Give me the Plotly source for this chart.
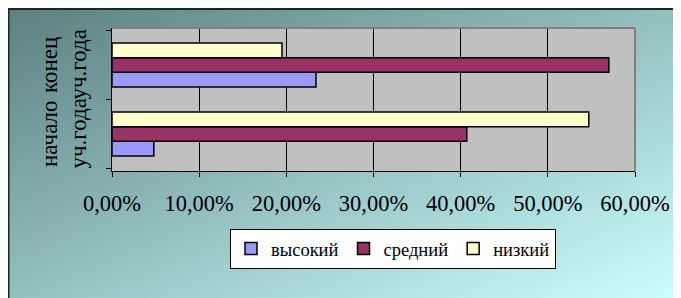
import base64
import plotly.graph_objects as go

categories = ["начало уч.года", "конец уч.года"]
series_names = ["высокий", "средний", "низкий"]
vysokiy = [0.048, 0.234]
sredniy = [0.407, 0.570]
nizkiy = [0.547, 0.195]
series_values = [vysokiy, sredniy, nizkiy]
series_colors = ["#9999FF", "#993366", "#FFFFCC"]
x_tickvals = [0, 0.1, 0.2, 0.3, 0.4, 0.5, 0.6]

# page body has an 8px margin, so the figure starts at (8, 8) in the window
W, H = 673, 290
ML, MR, MT, MB = 104, 46, 20, 127
PW, PH = W - ML - MR, H - MT - MB


def px_x(p):
    return (p - ML) / PW


def px_y(p):
    return (H - MB - p) / PH


FONT = "Liberation Serif"

fig = go.Figure()
for name, vals, col in zip(series_names, series_values, series_colors):
    fig.add_trace(go.Bar(
        y=categories, x=vals, name=name, orientation="h",
        marker=dict(color=col, line=dict(color="black", width=1.5)),
    ))

# category labels: two rotated lines per category, placed at the category
label_cols = [41, 69.5]
annotations = []
for cat in categories:
    for col_x, word in zip(label_cols, cat.split(" ")):
        annotations.append(dict(
            text=word, x=px_x(col_x), xref="paper", y=cat, yref="y",
            textangle=-90, showarrow=False, xanchor="center", yanchor="middle",
            font=dict(family=FONT, size=23, color="black"),
        ))

svg = ('<svg xmlns="http://www.w3.org/2000/svg" width="673" height="290" '
       'preserveAspectRatio="none"><defs><linearGradient id="g" x1="0" y1="0" '
       'x2="1" y2="1"><stop offset="0" stop-color="#5C8080"/>'
       '<stop offset="1" stop-color="#CCFFFF"/></linearGradient></defs>'
       '<rect width="673" height="290" fill="url(#g)"/></svg>')
src = "data:image/svg+xml;base64," + base64.b64encode(svg.encode()).decode()

fig.update_layout(
    width=W, height=H,
    margin=dict(l=ML, r=MR, t=MT, b=MB, autoexpand=False),
    paper_bgcolor="white",
    plot_bgcolor="#C0C0C0",
    barmode="group", bargap=0.36, bargroupgap=0,
    separators=",.",
    font=dict(family=FONT, color="black"),
    showlegend=True,
    legend=dict(
        orientation="h", xref="container", yref="container",
        x=222 / W, y=1 - 221 / H, xanchor="left", yanchor="top",
        bgcolor="white", bordercolor="black", borderwidth=1,
        font=dict(family=FONT, size=18.5, color="black"),
        traceorder="normal",
    ),
    xaxis=dict(
        range=[0, 0.6], tickvals=x_tickvals, tickformat=".2%",
        showgrid=True, gridcolor="black", gridwidth=1,
        showline=True, linecolor="black", linewidth=1,
        ticks="outside", ticklen=5, tickcolor="black",
        tickfont=dict(family=FONT, size=22.5, color="black"),
        ticklabelstandoff=7,
        zeroline=False, fixedrange=True,
    ),
    yaxis=dict(
        type="category", tickson="boundaries",
        showgrid=False, showline=True, linecolor="black", linewidth=1,
        ticks="outside", ticklen=5, tickcolor="black",
        showticklabels=False,
        fixedrange=True,
    ),
    annotations=annotations,
    images=[dict(
        source=src, xref="paper", yref="paper",
        x=px_x(0), y=px_y(0), sizex=W / PW, sizey=H / PH,
        xanchor="left", yanchor="top", sizing="stretch", layer="below",
    )],
    shapes=[
        dict(type="rect", xref="paper", yref="paper", x0=0, x1=1, y0=0, y1=1,
             fillcolor="#C0C0C0", line=dict(width=0), layer="below"),
        dict(type="line", xref="paper", yref="paper", x0=0, x1=1, y0=1, y1=1,
             line=dict(color="#808080", width=2), layer="above"),
        dict(type="line", xref="paper", yref="paper", x0=1, x1=1, y0=0, y1=1,
             line=dict(color="#808080", width=2), layer="above"),
        dict(type="line", xref="paper", yref="paper", x0=px_x(0), x1=px_x(W),
             y0=px_y(1), y1=px_y(1), line=dict(color="#1A2626", width=2), layer="above"),
        dict(type="line", xref="paper", yref="paper", x0=px_x(0.5), x1=px_x(0.5),
             y0=px_y(0), y1=px_y(H), line=dict(color="#1A2626", width=2), layer="above"),
    ],
)

fig.write_html("out.html")
